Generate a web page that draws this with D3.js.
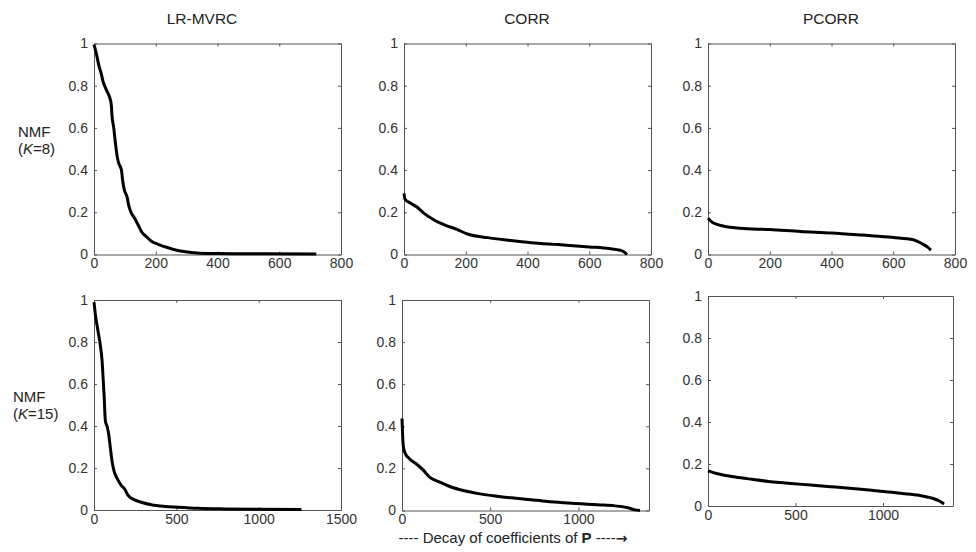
<!DOCTYPE html>
<html><head><meta charset="utf-8">
<script src="https://cdn.jsdelivr.net/npm/d3@7"></script>
<style>
body{margin:0;background:#fff;}
svg{display:block;font-family:"Liberation Sans",Arial,sans-serif;}
</style></head>
<body>
<svg id="chart" width="976" height="552"></svg>
<script>
// ---- data ----
const columnTitles = ["LR-MVRC", "CORR", "PCORR"];
const rowLabelsTop = ["NMF", "K", "=8"];
const rowLabelsBottom = ["NMF", "K", "=15"];
const yTicks = [0, 0.2, 0.4, 0.6, 0.8, 1];
const yTickLabels = ["0", "0.2", "0.4", "0.6", "0.8", "1"];
const xTicksK8 = [0, 200, 400, 600, 800];
const xTicksK15Left = [0, 500, 1000, 1500];
const xTicksK15 = [0, 500, 1000];

const k8LrX = [0, 8, 15, 24, 29, 40, 51, 56, 58, 64, 70, 76, 80, 89, 92, 97, 108, 112, 119, 132, 143, 154, 170, 186, 208, 240, 272, 316, 370, 450, 550, 720];
const k8LrY = [0.995, 0.95, 0.90, 0.854, 0.822, 0.78, 0.743, 0.71, 0.663, 0.60, 0.52, 0.457, 0.433, 0.40, 0.36, 0.314, 0.267, 0.235, 0.203, 0.171, 0.14, 0.108, 0.084, 0.063, 0.048, 0.032, 0.019, 0.0095, 0.005, 0.004, 0.003, 0.002];

const k8CorrX = [0, 3, 20, 42, 63, 96, 129, 173, 205, 271, 337, 413, 500, 600, 665, 700, 715, 722];
const k8CorrY = [0.29, 0.263, 0.244, 0.225, 0.197, 0.165, 0.142, 0.118, 0.097, 0.08, 0.068, 0.056, 0.047, 0.036, 0.028, 0.02, 0.01, 0.0];

const k8PcorrX = [0, 16, 49, 103, 200, 300, 400, 500, 600, 665, 692, 714, 722];
const k8PcorrY = [0.172, 0.15, 0.135, 0.124, 0.118, 0.109, 0.102, 0.092, 0.081, 0.07, 0.052, 0.032, 0.02];

const k15LrX = [0, 8, 24, 40, 49, 55, 61, 69, 81, 89, 99, 109, 121, 142, 166, 186, 206, 247, 287, 348, 429, 510, 632, 800, 1000, 1260];
const k15LrY = [0.99, 0.933, 0.854, 0.775, 0.711, 0.632, 0.552, 0.425, 0.394, 0.362, 0.298, 0.235, 0.187, 0.148, 0.116, 0.10, 0.071, 0.048, 0.037, 0.025, 0.017, 0.013, 0.008, 0.005, 0.003, 0.002];

const k15CorrX = [0, 4, 8, 19, 42, 80, 118, 156, 214, 271, 347, 443, 538, 633, 729, 824, 920, 1015, 1110, 1206, 1282, 1320, 1349];
const k15CorrY = [0.437, 0.349, 0.302, 0.27, 0.246, 0.222, 0.194, 0.159, 0.135, 0.114, 0.095, 0.079, 0.068, 0.059, 0.051, 0.043, 0.037, 0.032, 0.027, 0.022, 0.013, 0.003, 0];

const k15PcorrX = [0, 61, 156, 252, 347, 443, 538, 633, 729, 824, 920, 1015, 1110, 1206, 1282, 1320, 1349];
const k15PcorrY = [0.167, 0.152, 0.138, 0.127, 0.117, 0.110, 0.103, 0.097, 0.090, 0.083, 0.076, 0.068, 0.060, 0.051, 0.037, 0.025, 0.01];

// ---- layout ----
const svg = d3.select("#chart");
const panels = [
  {x0: 94, x1: 341, y0: 43.5, y1: 254.5, xMax: 800, xt: xTicksK8, xs: k8LrX, ys: k8LrY},
  {x0: 404, x1: 651, y0: 43.5, y1: 254.5, xMax: 800, xt: xTicksK8, xs: k8CorrX, ys: k8CorrY},
  {x0: 708, x1: 955, y0: 43.5, y1: 254.5, xMax: 800, xt: xTicksK8, xs: k8PcorrX, ys: k8PcorrY},
  {x0: 94, x1: 341, y0: 300, y1: 510, xMax: 1500, xt: xTicksK15Left, xs: k15LrX, ys: k15LrY},
  {x0: 402, x1: 649, y0: 300, y1: 510.5, xMax: 1400, xt: xTicksK15, xs: k15CorrX, ys: k15CorrY},
  {x0: 708, x1: 953, y0: 296, y1: 506, xMax: 1400, xt: xTicksK15, xs: k15PcorrX, ys: k15PcorrY}
];

const boxColor = "#555";
const textColor = "#333";

panels.forEach(p => {
  const x = d3.scaleLinear().domain([0, p.xMax]).range([p.x0, p.x1]);
  const y = d3.scaleLinear().domain([0, 1]).range([p.y1, p.y0]);
  const g = svg.append("g");

  const styleAxis = sel => {
    sel.selectAll("path.domain").attr("stroke", boxColor).attr("stroke-width", 1);
    sel.selectAll(".tick line").attr("stroke", boxColor);
    sel.selectAll(".tick text").attr("fill", textColor).attr("font-size", 14)
      .attr("font-family", "Liberation Sans, Arial, sans-serif");
  };

  g.append("g").attr("transform", `translate(0,${p.y1})`)
    .call(d3.axisBottom(x).tickValues(p.xt).tickFormat(d3.format("d")).tickSize(-3).tickSizeOuter(0).tickPadding(4))
    .call(styleAxis);
  g.append("g").attr("transform", `translate(0,${p.y0})`)
    .call(d3.axisTop(x).tickValues(p.xt).tickFormat("").tickSize(-3).tickSizeOuter(0))
    .call(styleAxis);
  g.append("g").attr("transform", `translate(${p.x0},0)`)
    .call(d3.axisLeft(y).tickValues(yTicks).tickFormat((d, i) => yTickLabels[i]).tickSize(-3).tickSizeOuter(0).tickPadding(6))
    .call(styleAxis);
  g.append("g").attr("transform", `translate(${p.x1},0)`)
    .call(d3.axisRight(y).tickValues(yTicks).tickFormat("").tickSize(-3).tickSizeOuter(0))
    .call(styleAxis);

  const pts = p.xs.map((v, i) => [v, p.ys[i]]);
  g.append("path")
    .datum(pts)
    .attr("fill", "none")
    .attr("stroke", "#000")
    .attr("stroke-width", 3)
    .attr("stroke-linejoin", "round")
    .attr("d", d3.line().x(d => x(d[0])).y(d => y(d[1])).curve(d3.curveMonotoneX));
});

// column titles
const titleX = [202, 527, 831];
columnTitles.forEach((t, i) => {
  svg.append("text").attr("x", titleX[i]).attr("y", 24)
    .attr("text-anchor", "middle").attr("font-size", 15.5).attr("fill", "#222").text(t);
});

// row labels
function rowLabel(lbl, x, y1, y2) {
  svg.append("text").attr("x", x).attr("y", y1).attr("font-size", 15).attr("fill", "#222").text(lbl[0]);
  const t = svg.append("text").attr("x", x).attr("y", y2).attr("font-size", 15).attr("fill", "#222");
  t.append("tspan").text("(");
  t.append("tspan").attr("font-style", "italic").text(lbl[1]);
  t.append("tspan").text(lbl[2] + ")");
}
rowLabel(rowLabelsTop, 18, 136.5, 153.5);
rowLabel(rowLabelsBottom, 13, 401.5, 418.5);

// x-axis caption
const cap = svg.append("text").attr("x", 513).attr("y", 543)
  .attr("text-anchor", "middle").attr("font-size", 15).attr("fill", "#222");
cap.append("tspan").text("---- Decay of coefficients of ");
cap.append("tspan").attr("font-weight", "bold").text("P");
cap.append("tspan").text(" ----");
cap.append("tspan").attr("font-weight", "bold").attr("font-family", "DejaVu Sans, sans-serif").attr("font-size", 14).text("\u2192");
</script>
</body></html>
